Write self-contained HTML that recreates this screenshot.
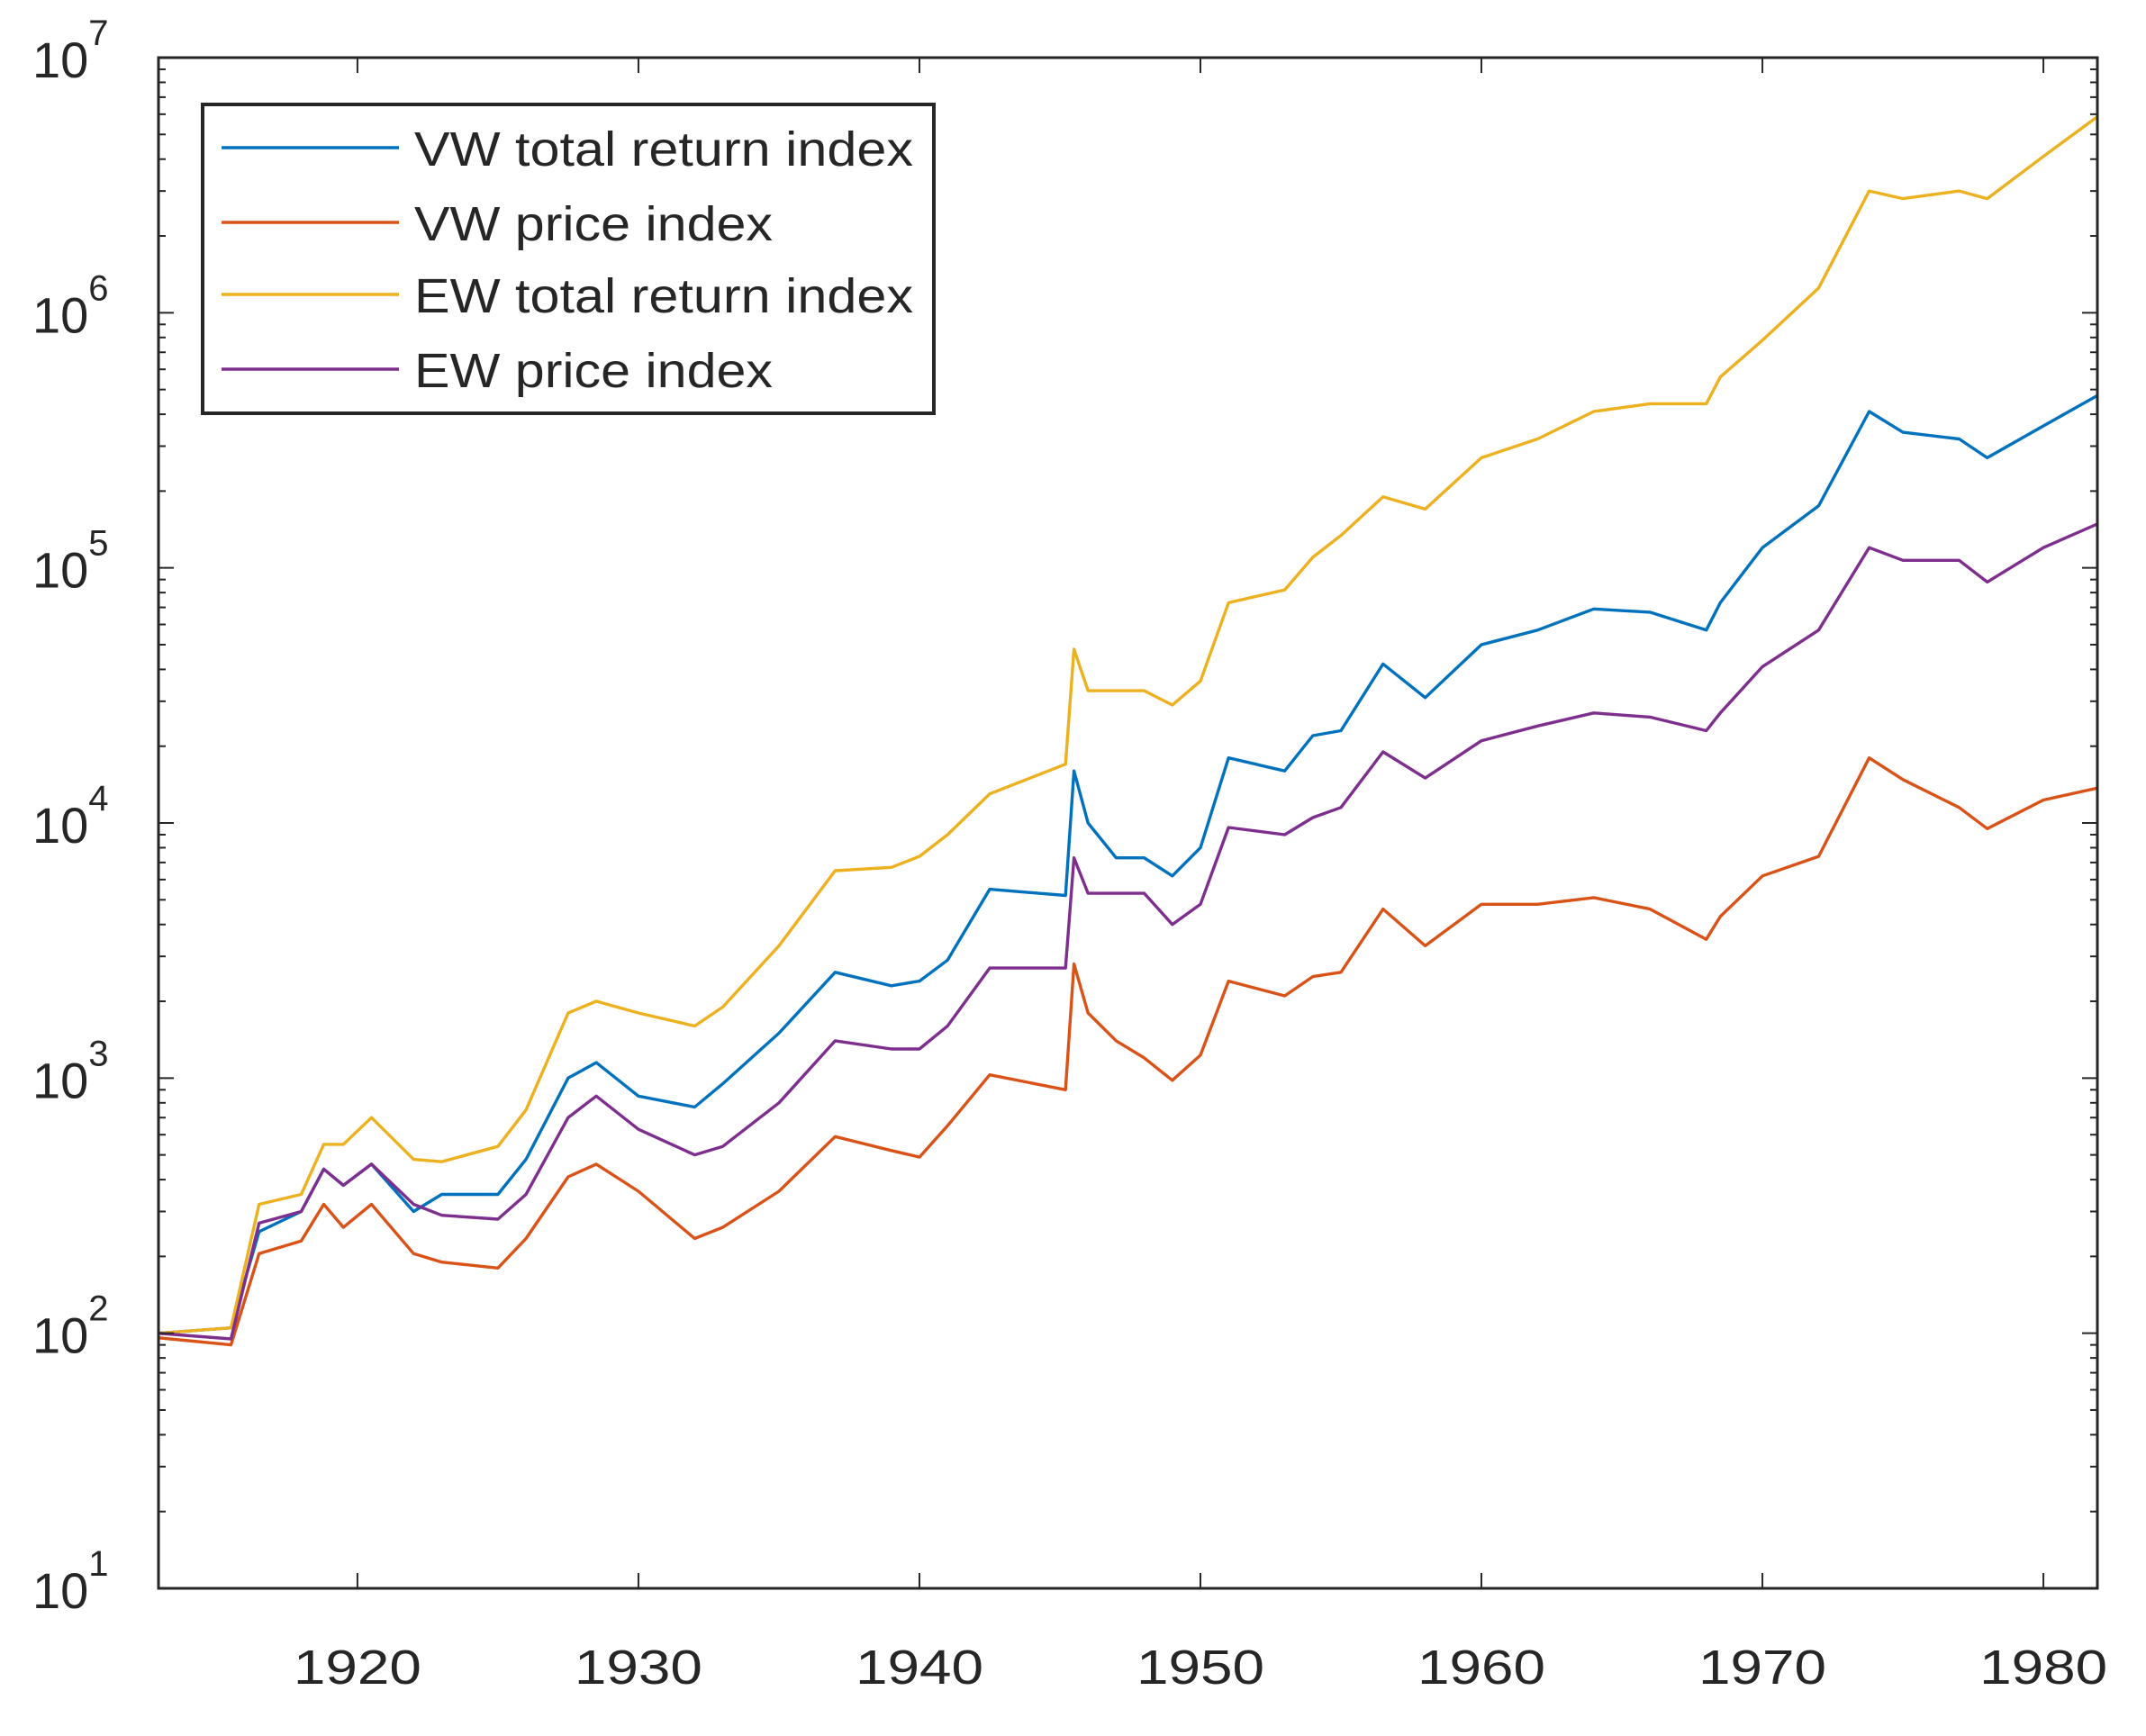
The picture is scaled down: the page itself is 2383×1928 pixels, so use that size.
<!DOCTYPE html>
<html><head><meta charset="utf-8"><style>
html,body{margin:0;padding:0;background:#fff;}
svg{display:block;}
text{font-family:"Liberation Sans",sans-serif;fill:#262626;}
</style></head><body>
<svg id="chart" width="2383" height="1928" viewBox="0 0 2383 1928" xmlns="http://www.w3.org/2000/svg">
<rect x="0" y="0" width="2383" height="1928" fill="#fff"/>
<g id="series"></g>
<g id="axes"></g>
<g id="legend"></g>
</svg>
<script>
const years = [1912.9,1915.5,1916.5,1918,1918.8,1919.5,1920.5,1922,1923,1925,1926,1927.5,1928.5,1930,1932,1933,1935,1937,1939,1940,1941,1942.5,1945.2,1945.5,1946,1947,1948,1949,1950,1951,1953,1954,1955,1956.5,1958,1960,1962,1964,1966,1968,1968.5,1970,1972,1973.8,1975,1977,1978,1980,1982.3];
const vwTotal = [100,105,250,300,440,380,460,300,350,350,480,1000,1150,850,770,950,1500,2600,2300,2400,2900,5500,5200,16000,10000,7300,7300,6200,8000,18000,16000,22000,23000,42000,31000,50000,57000,69000,67000,57000,73000,120000,175000,410000,340000,320000,270000,360000,500000];
const vwPrice = [96,90,205,230,320,260,320,205,190,180,235,410,460,360,235,260,360,590,520,490,650,1030,900,2800,1800,1400,1200,980,1230,2400,2100,2500,2600,4600,3300,4800,4800,5100,4600,3500,4300,6200,7400,18000,14800,11500,9500,12300,14000];
const ewTotal = [100,105,320,350,550,550,700,480,470,540,750,1800,2000,1800,1600,1900,3300,6500,6700,7400,9000,13000,17000,48000,33000,33000,33000,29000,36000,73000,82000,110000,134000,190000,170000,270000,320000,410000,440000,440000,560000,780000,1250000,3000000,2800000,3000000,2800000,4100000,6300000];
const ewPrice = [100,95,270,300,440,380,460,320,290,280,350,700,850,630,500,540,800,1400,1300,1300,1600,2700,2700,7300,5300,5300,5300,4000,4800,9600,9000,10500,11500,19000,15000,21000,24000,27000,26000,23000,27000,41000,57000,120000,107000,107000,88000,120000,155000];
const xTicks = [1920,1930,1940,1950,1960,1970,1980];
const yExps = [1,2,3,4,5,6,7];
const seriesNames = ["VW total return index","VW price index","EW total return index","EW price index"];

const NS="http://www.w3.org/2000/svg";
const L=176,R=2329,T=64,B=1764;
const X0=1912.92,X1=1981.92;
const xs=y=>L+(y-X0)/(X1-X0)*(R-L);
const ys=v=>B-(Math.log10(v)-1)/6*(B-T);
function mk(tag,attrs,parent){const e=document.createElementNS(NS,tag);for(const k in attrs)e.setAttribute(k,attrs[k]);parent.appendChild(e);return e;}
const gS=document.getElementById('series'),gA=document.getElementById('axes'),gL=document.getElementById('legend');
const colors=["#0072BD","#D95319","#EDB120","#7E2F8E"];
const data=[vwTotal,vwPrice,ewTotal,ewPrice];
const keys=["vw-total-return-line","vw-price-line","ew-total-return-line","ew-price-line"];
const clip=mk('clipPath',{id:'pc'},document.getElementById('chart'));
mk('rect',{x:L,y:T,width:R-L,height:B-T},clip);
gS.setAttribute('clip-path','url(#pc)');
data.forEach((arr,i)=>{
  const d=arr.map((v,j)=>(j?'L':'M')+xs(years[j]).toFixed(1)+','+ys(v).toFixed(1)).join(' ');
  const p=mk('path',{d:d,fill:'none',stroke:colors[i],'stroke-width':3.4,'stroke-linejoin':'round'},gS);
  
  
});
const box=mk('rect',{x:L,y:T,width:R-L,height:B-T,fill:'none',stroke:'#262626','stroke-width':3},gA);


xTicks.forEach(t=>{
  const x=xs(t);
  mk('line',{x1:x,y1:B,x2:x,y2:B-17,stroke:'#262626','stroke-width':2},gA);
  mk('line',{x1:x,y1:T,x2:x,y2:T+17,stroke:'#262626','stroke-width':2},gA);
  const tx=mk('text',{x:x,y:1870,'text-anchor':'middle','font-size':54,textLength:142,lengthAdjust:'spacingAndGlyphs'},gA);
  tx.textContent=t;
  
  
});
yExps.forEach(e=>{
  const y=ys(Math.pow(10,e));
  mk('line',{x1:L,y1:y,x2:L+17,y2:y,stroke:'#262626','stroke-width':2},gA);
  mk('line',{x1:R,y1:y,x2:R-17,y2:y,stroke:'#262626','stroke-width':2},gA);
  if(e<7){for(let m=2;m<10;m++){const ym=ys(m*Math.pow(10,e));
    mk('line',{x1:L,y1:ym,x2:L+8,y2:ym,stroke:'#262626','stroke-width':2},gA);
    mk('line',{x1:R,y1:ym,x2:R-8,y2:ym,stroke:'#262626','stroke-width':2},gA);}}
  const tx=mk('text',{x:36,y:y+22,'font-size':56},gA);
  
  
  const a=mk('tspan',{},tx);a.textContent='10';
  const b=mk('tspan',{dy:-36,'font-size':40},tx);b.textContent=e;
});
const lb=mk('rect',{x:225,y:116,width:812,height:343,fill:'#fff',stroke:'#262626','stroke-width':4},gL);


const rowY=[164,247,327,410];
const tl=[554,398,554,398];
seriesNames.forEach((n,i)=>{
  const ln=mk('line',{x1:246,y1:rowY[i],x2:443,y2:rowY[i],stroke:colors[i],'stroke-width':3.5},gL);
  
  
  const tx=mk('text',{x:460,y:rowY[i]+20,'font-size':54,fill:'#000',textLength:tl[i],lengthAdjust:'spacingAndGlyphs'},gL);
  tx.textContent=n;
  
  
});
</script>
</body></html>
